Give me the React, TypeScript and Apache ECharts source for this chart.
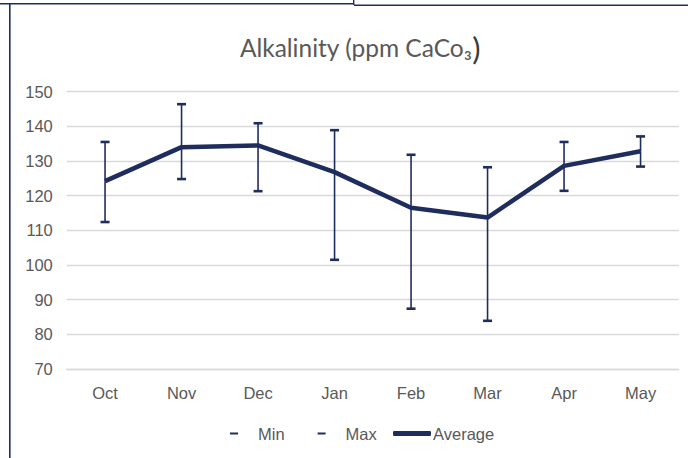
import React, { useEffect, useRef } from "react";
import * as echarts from "echarts";

const months = ["Oct", "Nov", "Dec", "Jan", "Feb", "Mar", "Apr", "May"];
const averageValues = [124.2, 134.0, 134.5, 126.8, 116.5, 113.7, 128.6, 132.8];
const minValues = [112.4, 124.8, 121.3, 101.5, 87.4, 83.9, 121.4, 128.4];
const maxValues = [135.5, 146.4, 140.9, 138.9, 131.8, 128.2, 135.5, 137.1];

const NAVY = "#1f2d5e";
const GREY_TEXT = "#595959";

function errorBar(capTo: "min" | "max") {
  return (params: any, api: any) => {
    const i = api.value(0);
    const end = api.coord([i, api.value(1)]);
    const start = api.coord([i, api.value(2)]);
    const capHalf = 4.5;
    return {
      type: "group",
      children: [
        {
          type: "line",
          shape: { x1: start[0], y1: start[1], x2: end[0], y2: end[1] },
          style: { stroke: NAVY, lineWidth: 1.6 },
        },
        {
          type: "line",
          shape: { x1: end[0] - capHalf, y1: end[1], x2: end[0] + capHalf, y2: end[1] },
          style: { stroke: NAVY, lineWidth: 2.6 },
        },
      ],
    };
  };
}

export default function App() {
  const ref = useRef<HTMLDivElement>(null);
  useEffect(() => {
    const chart = echarts.init(ref.current!, null, { renderer: "svg" });
    const minData = months.map((_, i) => [i, minValues[i], averageValues[i]]);
    const maxData = months.map((_, i) => [i, maxValues[i], averageValues[i]]);
    chart.setOption({
      animation: false,
      backgroundColor: "#ffffff",
      title: {
        text: "{t|Alkalinity (ppm CaCo₃}{p|)}",
        left: 355,
        top: 27,
        textAlign: "center",
        textStyle: {
          fontWeight: "normal",
          rich: {
            t: { fontFamily: "Lato", fontSize: 24.5, fontWeight: "normal", color: GREY_TEXT },
            p: { fontFamily: "Lato", fontSize: 31, fontWeight: "normal", color: "#3a3a3a" },
          },
        },
      },
      grid: { left: 66.8, right: 9.2, top: 91.7, bottom: 89, containLabel: false },
      xAxis: {
        type: "category",
        data: months,
        boundaryGap: true,
        axisLine: { show: true, lineStyle: { color: "#d9d9d9", width: 1.3 } },
        axisTick: { show: false },
        axisLabel: {
          color: GREY_TEXT,
          fontFamily: "Liberation Sans",
          fontSize: 16.5,
          margin: 15,
        },
        splitLine: { show: false },
      },
      yAxis: {
        type: "value",
        min: 70,
        max: 150,
        interval: 10,
        axisLine: { show: false },
        axisTick: { show: false },
        axisLabel: {
          color: GREY_TEXT,
          fontFamily: "Liberation Sans",
          fontSize: 16.5,
          margin: 14,
        },
        splitLine: { lineStyle: { color: "#d9d9d9", width: 1.3 } },
      },
      legend: [
        {
          data: [
            { name: "Min", icon: "rect" },
            { name: "Max", icon: "rect" },
          ],
          left: 225,
          top: 420,
          itemWidth: 8,
          itemHeight: 2,
          itemGap: 33,
          textStyle: {
            color: GREY_TEXT,
            fontFamily: "Liberation Sans",
            fontSize: 16.5,
            padding: [0, 0, 0, 15],
          },
        },
        {
          data: [{ name: "Average", icon: "roundRect" }],
          left: 388,
          top: 420,
          itemWidth: 38,
          itemHeight: 5,
          textStyle: {
            color: GREY_TEXT,
            fontFamily: "Liberation Sans",
            fontSize: 16.5,
            padding: [0, 0, 0, -3],
          },
        },
      ],
      series: [
        {
          name: "Min",
          type: "custom",
          data: minData,
          itemStyle: { color: NAVY },
          renderItem: errorBar("min"),
          encode: { x: 0, y: [1, 2] },
          z: 2,
        },
        {
          name: "Max",
          type: "custom",
          data: maxData,
          itemStyle: { color: NAVY },
          renderItem: errorBar("max"),
          encode: { x: 0, y: [1, 2] },
          z: 2,
        },
        {
          name: "Average",
          type: "line",
          data: averageValues,
          symbol: "none",
          lineStyle: { color: NAVY, width: 4.5 },
          itemStyle: { color: NAVY },
          z: 3,
        },
      ],
      graphic: [
        { type: "rect", shape: { x: 0, y: 3, width: 354, height: 1.6 }, style: { fill: NAVY } },
        { type: "rect", shape: { x: 354, y: 4.5, width: 334, height: 1.6 }, style: { fill: NAVY } },
        { type: "rect", shape: { x: 353, y: 0, width: 1.4, height: 5 }, style: { fill: NAVY } },
        { type: "rect", shape: { x: 9, y: 3, width: 1.6, height: 455 }, style: { fill: NAVY } },
      ],
    });
    return () => chart.dispose();
  }, []);
  return (
    <div
      ref={ref}
      style={{ position: "fixed", left: 0, top: 0, width: 688, height: 458 }}
    />
  );
}
